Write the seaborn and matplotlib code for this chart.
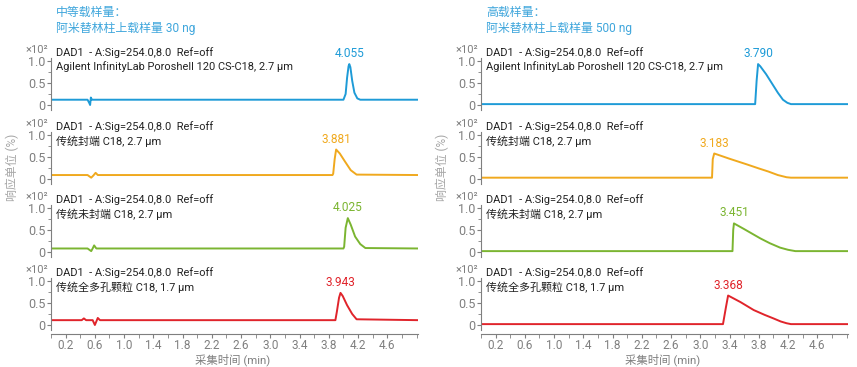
""" Chromatograms: amitriptyline at medium vs high load on four C18 columns. """
import numpy as np
import pandas as pd
import seaborn as sns
import matplotlib
matplotlib.use("Agg")
import matplotlib.pyplot as plt
from matplotlib.ticker import MultipleLocator, FixedLocator

sns.set_style("ticks")
plt.rcParams['font.family'] = ['Roboto', 'Noto Sans CJK SC', 'DejaVu Sans']

# ---- data (time in min, response x10^2) ----
panel_titles = ["中等载样量：\n阿米替林柱上载样量 30 ng",
                "高载样量：\n阿米替林柱上载样量 500 ng"]
column_names = ["Agilent InfinityLab Poroshell 120 CS-C18, 2.7 μm",
                "传统封端 C18, 2.7 μm",
                "传统未封端 C18, 2.7 μm",
                "传统全多孔颗粒 C18, 1.7 μm"]
header = "DAD1  - A:Sig=254.0,8.0  Ref=off"
trace_colors = ["#1e9bd7", "#f0a91e", "#7bb531", "#e0242b"]

# medium load (30 ng)
t_mid_1 = [0, 0.50, 0.525, 0.535, 0.545, 0.56, 4.00, 4.03, 4.05, 4.07, 4.08, 4.095, 4.12, 4.15, 4.19, 4.23, 5.02]
y_mid_1 = [0.12, 0.12, 0.04, 0.0, 0.17, 0.12, 0.12, 0.25, 0.62, 0.88, 0.93, 0.86, 0.55, 0.28, 0.15, 0.12, 0.12]
t_mid_2 = [0, 0.50, 0.55, 0.58, 0.61, 0.64, 3.85, 3.86, 3.88, 3.90, 3.95, 4.02, 4.10, 4.18, 5.02]
y_mid_2 = [0.09, 0.09, 0.03, 0.08, 0.14, 0.09, 0.09, 0.12, 0.45, 0.67, 0.58, 0.40, 0.20, 0.10, 0.09]
t_mid_3 = [0, 0.50, 0.55, 0.57, 0.59, 0.62, 4.00, 4.01, 4.03, 4.06, 4.10, 4.16, 4.23, 4.30, 5.02]
y_mid_3 = [0.08, 0.08, 0.02, 0.08, 0.15, 0.08, 0.08, 0.12, 0.55, 0.77, 0.62, 0.35, 0.18, 0.09, 0.08]
t_mid_4 = [0, 0.42, 0.45, 0.48, 0.57, 0.60, 0.62, 0.64, 0.67, 3.89, 3.91, 3.94, 3.96, 3.99, 4.05, 4.12, 4.18, 5.02]
y_mid_4 = [0.11, 0.11, 0.15, 0.11, 0.11, 0.0, 0.08, 0.16, 0.11, 0.11, 0.30, 0.62, 0.73, 0.66, 0.45, 0.25, 0.13, 0.11]

# high load (500 ng)
t_high_1 = [0, 3.75, 3.77, 3.79, 3.82, 3.90, 3.98, 4.06, 4.13, 4.19, 4.24, 5.02]
y_high_1 = [0.02, 0.02, 0.55, 0.93, 0.88, 0.70, 0.49, 0.28, 0.12, 0.05, 0.02, 0.02]
t_high_2 = [0, 3.16, 3.17, 3.19, 3.40, 3.64, 3.80, 3.93, 4.06, 4.18, 4.24, 5.02]
y_high_2 = [0.03, 0.03, 0.45, 0.58, 0.46, 0.33, 0.24, 0.17, 0.09, 0.04, 0.03, 0.03]
t_high_3 = [0, 3.44, 3.45, 3.46, 3.60, 3.82, 3.95, 4.09, 4.20, 4.30, 5.02]
y_high_3 = [0.02, 0.02, 0.50, 0.65, 0.52, 0.31, 0.20, 0.10, 0.05, 0.02, 0.02]
t_high_4 = [0, 3.31, 3.35, 3.38, 3.55, 3.73, 3.88, 4.00, 4.10, 4.18, 4.24, 5.02]
y_high_4 = [0.02, 0.02, 0.40, 0.67, 0.52, 0.34, 0.23, 0.15, 0.08, 0.04, 0.02, 0.02]

peak_rt_mid = ["4.055", "3.881", "4.025", "3.943"]
peak_rt_high = ["3.790", "3.183", "3.451", "3.368"]
apex_mid = [(4.08, 0.93), (3.90, 0.67), (4.06, 0.77), (3.96, 0.73)]
apex_high = [(3.79, 0.93), (3.19, 0.58), (3.46, 0.65), (3.38, 0.67)]

traces = [
    [(t_mid_1, y_mid_1), (t_mid_2, y_mid_2), (t_mid_3, y_mid_3), (t_mid_4, y_mid_4)],
    [(t_high_1, y_high_1), (t_high_2, y_high_2), (t_high_3, y_high_3), (t_high_4, y_high_4)],
]
peak_labels = [peak_rt_mid, peak_rt_high]
apexes = [apex_mid, apex_high]

# ---- layout ----
W, H = 857, 367
fig = plt.figure(figsize=(W / 100, H / 100), dpi=100)
grey = "#7f7f7f"
title_blue = "#3fa6dc"
col_left_px = [51, 481]
axes_w_px = 367
row_zero_px = [105, 179, 252, 325]
ymin, ymax = -0.2, 1.25
px_per_unit = 44

for c in range(2):
    for r in range(4):
        top_px = row_zero_px[r] - ymax * px_per_unit
        h_px = (ymax - ymin) * px_per_unit
        ax = fig.add_axes([col_left_px[c] / W, 1 - (top_px + h_px) / H,
                           axes_w_px / W, h_px / H])
        t, y = traces[c][r]
        df = pd.DataFrame({"time": t, "resp": y})
        sns.lineplot(data=df, x="time", y="resp", ax=ax, color=trace_colors[r],
                     lw=1.4, estimator=None, sort=False)
        ax.set_xlim(0, 5.02)
        ax.set_ylim(ymin, ymax)
        ax.set_xlabel("")
        ax.set_ylabel("")
        for s in ["top", "right"]:
            ax.spines[s].set_visible(False)
        ax.spines["left"].set_color(grey)
        ax.spines["left"].set_linewidth(0.8)
        ax.spines["left"].set_bounds(-0.12, 1.07)
        ax.yaxis.set_major_locator(FixedLocator([0, 0.5, 1.0]))
        ax.yaxis.set_minor_locator(FixedLocator([0.25, 0.75]))
        ax.set_yticklabels(["0", "0.5", "1.0"])
        ax.tick_params(axis="y", which="major", length=3, width=0.8, color=grey,
                       labelcolor=grey, labelsize=9, pad=1)
        ax.tick_params(axis="y", which="minor", length=2, width=0.6, color=grey)
        if r < 3:
            ax.spines["bottom"].set_visible(False)
            ax.set_xticks([])
        else:
            ax.spines["bottom"].set_color(grey)
            ax.spines["bottom"].set_linewidth(0.8)
            ax.xaxis.set_major_locator(FixedLocator(np.arange(0.2, 4.7, 0.4)))
            ax.xaxis.set_minor_locator(MultipleLocator(0.2))
            ax.set_xticklabels([f"{v:.1f}" for v in np.arange(0.2, 4.7, 0.4)])
            ax.tick_params(axis="x", which="major", length=3, width=0.8, color=grey,
                           labelcolor=grey, labelsize=8.5, pad=1)
            ax.tick_params(axis="x", which="minor", length=3, width=0.6, color=grey)
        ax.text(-0.008, 1.0, "×10²", transform=ax.transAxes, ha="right", va="center",
                fontsize=8, color=grey)
        ax.text(0.014, 0.955, header, transform=ax.transAxes, ha="left", va="center",
                fontsize=7.9, color="#222222")
        ax.text(0.014, 0.735, column_names[r], transform=ax.transAxes, ha="left",
                va="center", fontsize=7.9, color="#222222")
        ax.annotate(peak_labels[c][r], apexes[c][r], xytext=(0, 7.5),
                    textcoords="offset points", ha="center", va="center",
                    fontsize=8.6, color=trace_colors[r])

    x0 = col_left_px[c]
    fig.text((x0 + 5) / W, 1 - 20 / H, panel_titles[c], ha="left", va="center",
             fontsize=8.6, color=title_blue, linespacing=1.3)
    fig.text((x0 - 39) / W, 1 - 167 / H, "响应单位 (%)", rotation=90, ha="center",
             va="center", fontsize=8.6, color="#a6a6a6")
    fig.text((x0 + 182) / W, 1 - 360 / H, "采集时间 (min)", ha="center", va="center",
             fontsize=8.2, color=grey)

fig.savefig("out.png", dpi=100)
